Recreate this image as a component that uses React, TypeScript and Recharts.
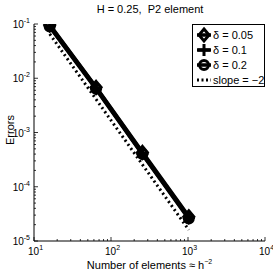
import React from 'react';
import { LineChart, Line, XAxis, YAxis } from 'recharts';

const elements = [16, 64, 256, 1024];
const errDelta005 = [0.096, 0.0068, 0.00043, 2.8e-5];
const errDelta01 = [0.093, 0.0066, 0.00041, 2.7e-5];
const errDelta02 = [0.09, 0.0064, 0.0004, 2.6e-5];
const slopeRef = [0.0655, 0.0041, 0.000256, 1.6e-5];

const xTicks = [10, 20, 30, 40, 50, 60, 70, 80, 90, 100, 200, 300, 400, 500, 600, 700, 800, 900, 1000, 2000, 3000, 4000, 5000, 6000, 7000, 8000, 9000, 10000];
const yTicks = [1e-5, 2e-5, 3e-5, 4e-5, 5e-5, 6e-5, 7e-5, 8e-5, 9e-5, 1e-4, 2e-4, 3e-4, 4e-4, 5e-4, 6e-4, 7e-4, 8e-4, 9e-4, 1e-3, 2e-3, 3e-3, 4e-3, 5e-3, 6e-3, 7e-3, 8e-3, 9e-3, 1e-2, 2e-2, 3e-2, 4e-2, 5e-2, 6e-2, 7e-2, 8e-2, 9e-2, 1e-1];

const FONT = '"Liberation Sans", Arial, sans-serif';

const toRows = (ys: number[]) => elements.map((x, i) => ({ x, y: ys[i] }));

const isMajor = (v: number) => Math.abs(Math.log10(v) - Math.round(Math.log10(v))) < 1e-6;
const expOf = (v: number) => Math.round(Math.log10(v));

const Pow = ({ x, y, v, anchor }: any) => (
  <text x={x} y={y} textAnchor={anchor} fontFamily={FONT} fontSize={10} fill="#000">
    10<tspan fontSize={7} dy={-5}>{expOf(v)}</tspan>
  </text>
);

const BottomTick = ({ x, y, payload }: any) => {
  const major = isMajor(payload.value);
  return (
    <g>
      <line x1={x} x2={x} y1={y} y2={y - (major ? 4 : 2)} stroke="#000" strokeWidth={0.8} />
      {major && <Pow x={x - 6} y={y + 14} v={payload.value} anchor="start" />}
    </g>
  );
};

const TopTick = ({ x, y, payload }: any) => {
  const major = isMajor(payload.value);
  return <line x1={x} x2={x} y1={y} y2={y + (major ? 4 : 2)} stroke="#000" strokeWidth={0.8} />;
};

const LeftTick = ({ x, y, payload }: any) => {
  const major = isMajor(payload.value);
  return (
    <g>
      <line x1={x} x2={x + (major ? 4 : 2)} y1={y} y2={y} stroke="#000" strokeWidth={0.8} />
      {major && <Pow x={x - 4} y={y + 4} v={payload.value} anchor="end" />}
    </g>
  );
};

const RightTick = ({ x, y, payload }: any) => {
  const major = isMajor(payload.value);
  return <line x1={x} x2={x - (major ? 4 : 2)} y1={y} y2={y} stroke="#000" strokeWidth={0.8} />;
};

const Diamond = ({ cx, cy }: any) => (
  <path d={`M${cx},${cy - 6} L${cx + 5},${cy} L${cx},${cy + 6} L${cx - 5},${cy} Z`} fill="none" stroke="#000" strokeWidth={3} />
);
const Plus = ({ cx, cy }: any) => (
  <path d={`M${cx - 6},${cy} H${cx + 6} M${cx},${cy - 6} V${cy + 6}`} stroke="#000" strokeWidth={3} />
);
const Ring = ({ cx, cy }: any) => <circle cx={cx} cy={cy} r={4.5} fill="none" stroke="#000" strokeWidth={3} />;

const Legend = () => (
  <svg width={74} height={64} style={{ position: 'absolute', left: 192, top: 24 }}>
    <rect x={0.5} y={0.5} width={72} height={62} fill="#fff" stroke="#000" strokeWidth={1} />
    {[
      { label: 'δ = 0.05', Mark: Diamond },
      { label: 'δ = 0.1', Mark: Plus },
      { label: 'δ = 0.2', Mark: Ring },
    ].map(({ label, Mark }, i) => {
      const cy = 11 + i * 15;
      return (
        <g key={label}>
          <line x1={5} x2={19} y1={cy} y2={cy} stroke="#000" strokeWidth={3.5} />
          <Mark cx={12} cy={cy} />
          <text x={21} y={cy + 4} fontFamily={FONT} fontSize={11}>{label}</text>
        </g>
      );
    })}
    <line x1={5} x2={19} y1={56} y2={56} stroke="#000" strokeWidth={3} strokeDasharray="2 2.5" />
    <text x={21} y={60} fontFamily={FONT} fontSize={11}>slope = −2</text>
  </svg>
);

export default function App() {
  return (
    <div style={{ position: 'absolute', left: 0, top: 0, width: 273, height: 273, background: '#fff', fontFamily: FONT }}>
      <div style={{ position: 'absolute', left: 0, width: 300, top: 3, textAlign: 'center', fontSize: 11 }}>
        H = 0.25,&nbsp; P2 element
      </div>
      <LineChart width={273} height={273} margin={{ top: 24, right: 8, bottom: 12, left: 4 }}>
        <XAxis
          dataKey="x"
          type="number"
          scale="log"
          domain={[10, 10000]}
          ticks={xTicks}
          interval={0}
          tick={<BottomTick />}
          tickLine={false}
          tickSize={0}
          tickMargin={0}
          height={20}
          stroke="#000"
          allowDataOverflow
        />
        <XAxis
          xAxisId="top"
          orientation="top"
          dataKey="x"
          type="number"
          scale="log"
          domain={[10, 10000]}
          ticks={xTicks}
          interval={0}
          tick={<TopTick />}
          tickLine={false}
          tickSize={0}
          tickMargin={0}
          height={0}
          stroke="#000"
          allowDataOverflow
        />
        <YAxis
          dataKey="y"
          type="number"
          scale="log"
          domain={[1e-5, 1e-1]}
          ticks={yTicks}
          interval={0}
          tick={<LeftTick />}
          tickLine={false}
          tickSize={0}
          tickMargin={0}
          width={30}
          stroke="#000"
          allowDataOverflow
        />
        <YAxis
          yAxisId="right"
          orientation="right"
          dataKey="y"
          type="number"
          scale="log"
          domain={[1e-5, 1e-1]}
          ticks={yTicks}
          interval={0}
          tick={<RightTick />}
          tickLine={false}
          tickSize={0}
          tickMargin={0}
          width={0}
          stroke="#000"
          allowDataOverflow
        />
        <Line data={toRows(slopeRef)} dataKey="y" stroke="#000" strokeWidth={3} strokeDasharray="2 3" dot={false} isAnimationActive={false} />
        <Line data={toRows(errDelta02)} dataKey="y" stroke="#000" strokeWidth={4} dot={<Ring />} isAnimationActive={false} />
        <Line data={toRows(errDelta01)} dataKey="y" stroke="#000" strokeWidth={4} dot={<Plus />} isAnimationActive={false} />
        <Line data={toRows(errDelta005)} dataKey="y" stroke="#000" strokeWidth={4} dot={<Diamond />} isAnimationActive={false} />
      </LineChart>
      <div style={{ position: 'absolute', left: 0, top: 132, width: 20, height: 0 }}>
        <div style={{ position: 'absolute', left: 4, top: -8, transform: 'rotate(-90deg)', transformOrigin: 'center', fontSize: 11, whiteSpace: 'nowrap', width: 40, textAlign: 'center', marginLeft: -14 }}>
          Errors
        </div>
      </div>
      <div style={{ position: 'absolute', left: 34, width: 231, top: 258, textAlign: 'center', fontSize: 11 }}>
        Number of elements ≈ h<sup style={{ fontSize: 7 }}>−2</sup>
      </div>
      <Legend />
    </div>
  );
}
